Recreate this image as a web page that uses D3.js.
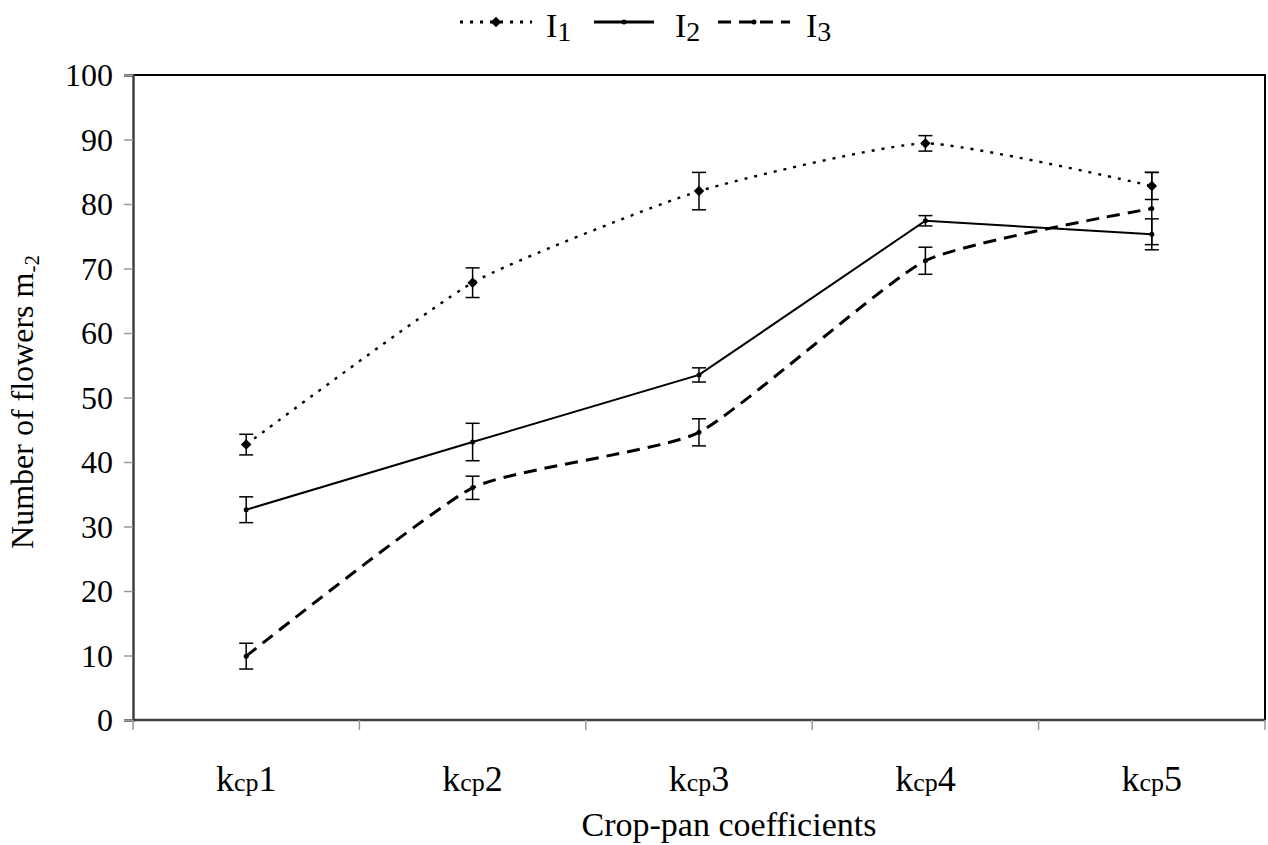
<!DOCTYPE html>
<html>
<head>
<meta charset="utf-8">
<script src="https://cdn.jsdelivr.net/npm/d3@7"></script>
<style>
  html, body { margin: 0; padding: 0; background: #fff; }
  svg text { font-family: "Liberation Serif", "Times New Roman", Times, serif; }
</style>
</head>
<body>
<svg id="chart" width="1268" height="845" font-family="Liberation Serif, Times New Roman, serif"></svg>
<script>
// Crop-pan coefficient levels (x categories)
const categories = ["1", "2", "3", "4", "5"];
// Mean number of flowers per m² for each irrigation treatment
const seriesNames = ["1", "2", "3"];
const valuesI1 = [42.7, 67.8, 82.0, 89.4, 82.8];
const valuesI2 = [32.6, 43.1, 53.5, 77.4, 75.3];
const valuesI3 = [9.9, 36.0, 44.6, 71.2, 79.3];
// Standard errors (half-length of error bars)
const errI1 = [1.6, 2.3, 2.9, 1.2, 2.1];
const errI2 = [2.0, 2.9, 1.1, 0.8, 2.4];
const errI3 = [2.0, 1.8, 2.1, 2.1, 5.6];
const yTicks = [0, 10, 20, 30, 40, 50, 60, 70, 80, 90, 100];

const FONT = "Liberation Serif, Times New Roman, serif";
const svg = d3.select("#chart");
const margin = { left: 133, right: 1265, top: 75, bottom: 720 };

const x = d3.scaleBand().domain(categories).range([margin.left, margin.right]).padding(0);
const y = d3.scaleLinear().domain([0, 100]).range([margin.bottom, margin.top]);

// plot frame (top and right edges)
svg.append("path")
  .attr("d", `M${margin.left},${margin.top}H${margin.right}V${margin.bottom}`)
  .attr("fill", "none").attr("stroke", "#000").attr("stroke-width", 2);

// y axis
const yAxis = svg.append("g").attr("transform", `translate(${margin.left},0)`)
  .call(d3.axisLeft(y).tickValues(yTicks).tickSize(9).tickPadding(11))
  .attr("font-family", FONT);
yAxis.select(".domain").attr("stroke", "#404040").attr("stroke-width", 2.5);
yAxis.selectAll(".tick line").attr("stroke", "#999").attr("stroke-width", 1.5);
yAxis.selectAll(".tick text").attr("font-size", 32).attr("fill", "#000")
  .attr("font-family", FONT).attr("dy", "0.34em");

// x axis: ticks at band boundaries
const xAxis = svg.append("g").attr("transform", `translate(0,${margin.bottom})`);
xAxis.append("line").attr("x1", margin.left).attr("x2", margin.right)
  .attr("stroke", "#404040").attr("stroke-width", 2.5);
const bounds = categories.map(c => x(c)).concat([margin.right]);
xAxis.selectAll("line.tick").data(bounds).join("line").attr("class", "tick")
  .attr("x1", d => d).attr("x2", d => d).attr("y1", 0).attr("y2", 10)
  .attr("stroke", "#999").attr("stroke-width", 1.5);

// x tick labels: k with "cp" subscript
const xLab = xAxis.selectAll("text.lab").data(categories).join("text").attr("class", "lab")
  .attr("x", d => x(d) + x.bandwidth() / 2).attr("y", 71)
  .attr("text-anchor", "middle").attr("font-size", 36).attr("font-family", FONT).attr("fill", "#000");
xLab.append("tspan").text("k");
xLab.append("tspan").attr("font-size", 26).text("cp");
xLab.append("tspan").text(d => d);

// axis titles
svg.append("text").attr("x", 729).attr("y", 836).attr("text-anchor", "middle")
  .attr("font-family", FONT).attr("font-size", 34).attr("fill", "#000").text("Crop-pan coefficients");
const yTitle = svg.append("text").attr("transform", "translate(33,402) rotate(-90)")
  .attr("text-anchor", "middle").attr("font-family", FONT).attr("font-size", 32).attr("fill", "#000");
yTitle.append("tspan").text("Number of flowers m");
yTitle.append("tspan").attr("font-size", 21).attr("dy", 6).text("-2");

// series definitions
const series = [
  { name: seriesNames[0], values: valuesI1, err: errI1, dash: "3,7", width: 2.4, curve: d3.curveCardinal.tension(0.5), marker: "diamond" },
  { name: seriesNames[1], values: valuesI2, err: errI2, dash: null, width: 2, curve: d3.curveLinear, marker: "dot" },
  { name: seriesNames[2], values: valuesI3, err: errI3, dash: "13,8", width: 3, curve: d3.curveCardinal.tension(0.5), marker: "dash" }
];
const cx = i => x(categories[i]) + x.bandwidth() / 2;

// error bars
series.forEach(s => {
  const g = svg.append("g");
  s.values.forEach((v, i) => {
    const px = cx(i), top = y(v + s.err[i]), bot = y(v - s.err[i]);
    g.append("line").attr("x1", px).attr("x2", px).attr("y1", top).attr("y2", bot)
      .attr("stroke", "#000").attr("stroke-width", 1.5);
    [top, bot].forEach(yy => g.append("line").attr("x1", px - 7).attr("x2", px + 7)
      .attr("y1", yy).attr("y2", yy).attr("stroke", "#000").attr("stroke-width", 1.5));
  });
});

// lines
series.forEach(s => {
  const line = d3.line().x((d, i) => cx(i)).y(d => y(d)).curve(s.curve);
  svg.append("path").datum(s.values).attr("d", line)
    .attr("fill", "none").attr("stroke", "#000").attr("stroke-width", s.width)
    .attr("stroke-dasharray", s.dash);
});

function drawMarker(g, type, px, py) {
  if (type === "diamond") {
    g.append("path").attr("d", d3.symbol(d3.symbolDiamond2, 70)())
      .attr("transform", `translate(${px},${py})`).attr("fill", "#000");
  } else {
    g.append("circle").attr("cx", px).attr("cy", py).attr("r", 2.5).attr("fill", "#000");
  }
}

// markers
series.forEach(s => {
  const g = svg.append("g");
  s.values.forEach((v, i) => drawMarker(g, s.marker, cx(i), y(v)));
});

// legend
const legend = svg.append("g").attr("transform", "translate(460,22)");
const legendItems = [
  { s: series[0], x0: 0, x1: 72, tx: 86, lw: 3 },
  { s: series[1], x0: 134, x1: 194, tx: 215, lw: 3 },
  { s: series[2], x0: 258, x1: 330, tx: 346, lw: 3 }
];
legendItems.forEach(it => {
  legend.append("line").attr("x1", it.x0).attr("x2", it.x1).attr("y1", 0).attr("y2", 0)
    .attr("stroke", "#000").attr("stroke-width", it.lw).attr("stroke-dasharray", it.s.dash);
  drawMarker(legend, it.s.marker, (it.x0 + it.x1) / 2, 0);
  const t = legend.append("text").attr("x", it.tx).attr("y", 15).attr("font-family", FONT)
    .attr("font-size", 34).attr("fill", "#000");
  t.append("tspan").text("I");
  t.append("tspan").attr("dy", 4).attr("font-size", 28).text(it.s.name);
});
</script>
</body>
</html>
